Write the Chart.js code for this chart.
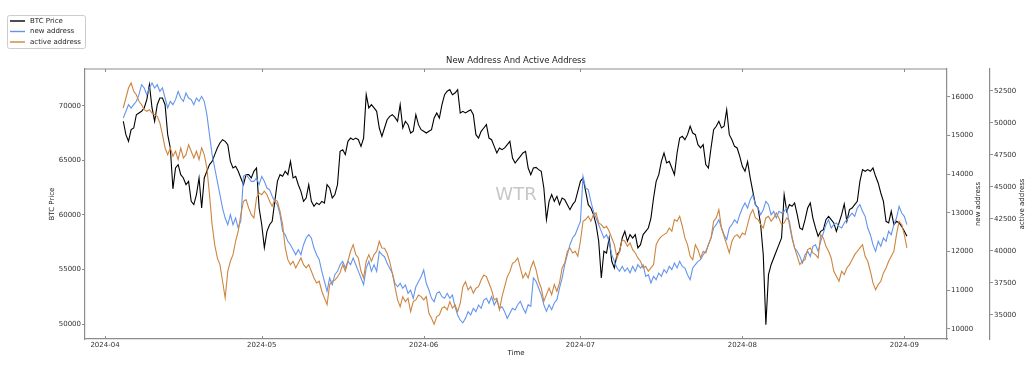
<!DOCTYPE html>
<html>
<head>
<meta charset="utf-8">
<title>New Address And Active Address</title>
<script src="https://cdn.jsdelivr.net/npm/chart.js@4.4.1/dist/chart.umd.min.js"></script>
<style>
  html, body { margin: 0; padding: 0; background: #fff; }
  #myChart { display: block; }
</style>
</head>
<body>
<canvas id="myChart" width="1036" height="370"></canvas>
<script>
// samples every 12 hours, first one on 2024-04-04 12:00 (day 3.5 counted from 2024-04-01)
const dayStart = 3.5;
const dayStep = 0.5;

const btcPrice = [
  68600,67370,66760,67830,67980,69200,69360,69510,69820,70580,
  71960,69820,68600,70120,70730,70730,70120,67370,66150,62400,
  64310,64620,63700,63400,62780,63090,61250,60950,61870,63400,
  60640,63400,64010,64620,64920,65540,66150,66610,66910,66760,
  66450,64920,64310,64470,64010,63400,62780,63700,63700,63400,
  64010,64310,60640,59110,57000,58500,59110,59420,61250,63090,
  63700,63550,64010,63700,64920,63400,63550,62780,62170,61250,
  61560,62780,61250,60800,61100,60950,61250,61100,62780,62480,
  61560,61870,62780,65840,65990,65540,66760,67060,66910,67060,
  66910,66300,67060,71040,69820,70120,69820,69510,67980,67220,
  67980,68740,69050,69200,68960,68600,70120,67980,68600,68290,
  67520,67680,69200,68290,67830,67680,67520,67680,67830,68900,
  69360,68900,70120,71040,71350,71500,71040,71190,71500,69360,
  69510,69360,69510,69660,69200,67370,67060,67680,67980,68290,
  67060,66910,66300,65690,66150,65990,66150,66450,66760,65230,
  64770,
  65080,65380,65690,65840,64310,63700,64310,64370,64160,64010,
  62480,59570,61250,61870,61250,61710,60950,61560,61410,60950,
  60490,60950,61250,62170,63090,63400,62170,60950,60640,60030,
  59110,57590,54220,56670,56510,57890,55750,55140,56360,56670,
  57890,58500,57590,58200,57890,58200,56980,57280,58200,58500,
  58810,
  59720,61560,63090,63700,64920,65690,64770,64920,64310,63700,
  65690,67060,67220,66910,67370,68140,67520,67370,66450,66150,
  66450,64620,64300,66150,67830,68140,68600,67980,68140,69660,
  67370,66910,66300,66150,65380,64470,64010,64900,63400,62170,
  60950,60640,59110,56360,49940,54530,55440,56060,56670,57280,
  57890,61870,60340,60950,60800,61100,60030,58810,58660,59570,
  60640,61100,59720,58810,58050,58500,58660,59570,59880,59570,
  59270,58500,59270,60030,61010,59420,60490,60640,60950,61250,
  63090,64160,64010,64160,64010,64310,63550,62940,62020,61250,
  59420,59270,60340,59110,59420,59270,58960,58500,58050
];

const newAddress = [
  15456,15629,15801,15715,15801,15888,16060,16319,16233,16060,
  16233,16363,16233,16319,16147,16233,15974,15715,15888,15801,
  15931,16147,15974,15888,16104,15974,15931,15801,15974,15888,
  16017,15888,15542,15024,14506,14161,13816,13470,13125,12866,
  12693,12952,12693,12866,12607,12800,13950,13988,13902,13816,
  13816,13902,13729,13946,13816,13643,13600,13428,13298,13211,
  12952,12521,12434,12262,12175,12045,11916,12045,11916,12175,
  12348,12434,12348,12089,11916,11786,11485,11227,10968,11312,
  11139,11398,11485,11657,11744,11571,11744,11657,11830,11657,
  11485,11312,11139,11571,11744,11485,11657,11485,12003,11916,
  11864,11692,11563,11434,11175,11087,11175,11045,11131,10916,
  11001,10786,11087,11217,11346,11519,11175,11001,10786,10698,
  10916,10957,10828,10786,10916,10786,10872,10569,10354,10224,
  10150,10268,10440,10354,10527,10440,10613,10527,10742,10786,
  10657,10828,10613,10742,10527,10569,10440,10268,10398,10527,
  10483,
  10621,10708,10535,10406,10621,10578,11312,11226,11053,10880,
  10621,10449,10621,10492,10665,10751,11053,11312,11657,11916,
  12175,12348,12434,12607,12780,13945,13643,13600,13298,13039,
  12866,12693,12521,12348,12434,12262,11916,11744,11571,11485,
  11614,11485,11571,11442,11614,11485,11657,11571,11657,11355,
  11398,
  11183,11355,11269,11442,11355,11528,11442,11614,11528,11700,
  11571,11744,11614,11571,11398,11269,11571,11657,11744,11786,
  11916,12003,12175,12348,12607,12693,12823,12607,12434,12305,
  12607,12693,12823,12737,12952,13125,13254,13125,13341,13470,
  13211,13125,12952,13082,13298,13211,12952,13039,12866,13039,
  12995,13039,13125,12693,12348,12089,12003,11873,11700,11916,
  12003,11873,12132,12175,12003,12262,12477,12693,12823,12607,
  12693,12737,12650,12607,12737,12823,12909,12995,12909,13125,
  13211,13039,12909,12607,12434,12175,12003,12262,12132,12348,
  12262,12521,12434,12693,12866,13168,12995,12909,12693
];

const activeAddress = [
  51149,51930,52711,53101,52453,52188,51672,51407,51016,50891,
  51016,50758,50626,50500,49977,49064,48025,47502,48025,47377,
  47767,47111,48025,47244,47502,48283,47767,47244,47767,47111,
  48025,47502,46463,44378,42035,40473,39434,38911,37614,36310,
  38395,39176,39692,40738,41519,42816,43862,43987,43339,42816,
  42558,44120,44510,44378,44643,44378,43862,43472,43987,43862,
  43081,42035,40215,39301,38911,39176,38653,39043,39434,38911,
  38653,38911,38395,37872,37481,37614,36833,36310,35787,37349,
  37614,37700,37950,38300,38911,38395,39176,39957,40473,39692,
  39434,38395,37872,39176,39692,39176,39692,39957,40738,40215,
  40191,39801,39145,38239,37192,36154,35631,36411,36021,36286,
  35240,36021,36154,36544,36411,36154,36411,35115,34724,34250,
  34849,34982,35505,35631,35373,36021,35505,35763,35240,35896,
  37192,37583,36935,37192,36677,37067,37192,37715,38106,37974,
  37458,36935,36154,36286,35373,36411,37192,37974,38364,39020,
  39145,
  39434,38653,37872,38262,37872,38653,39176,38520,37614,37091,
  36053,36568,37091,36568,37349,36833,37481,38653,39043,39957,
  40215,39826,39957,39565,40738,42300,42431,42690,42300,42816,
  42948,42170,42035,41779,41910,41519,40996,40473,39434,39957,
  40868,40738,40348,40607,40082,39826,39434,39176,38653,38785,
  38395,
  38653,38911,40473,40868,41124,41257,41388,41779,41519,42431,
  42300,42690,41910,40996,40473,39565,39301,40473,40082,39434,
  39957,39826,40473,40996,42300,42560,43210,41779,41124,40473,
  39826,40738,41124,41257,40996,41388,41257,42035,42816,43210,
  42560,42431,42035,41779,42560,42690,42300,42560,42948,42560,
  42035,42170,42560,42300,41124,40215,39565,38911,39176,39301,
  40082,40215,39826,39692,39434,41257,40996,40348,39957,39434,
  38395,38005,37614,38395,38130,38653,38911,39301,39692,39957,
  40215,40473,39565,39176,38395,37481,36960,37349,37614,38262,
  38653,39176,39565,39957,41257,42300,42035,41257,40215
];

// month ticks, in days from 2024-04-01
const monthDays = [0, 30, 61, 91, 122, 153];
const monthLabels = ['2024-04', '2024-05', '2024-06', '2024-07', '2024-08', '2024-09'];
const btcTicks = [50000, 55000, 60000, 65000, 70000];
const newAddressTicks = [10000, 11000, 12000, 13000, 14000, 15000, 16000];
const activeAddressTicks = [35000, 37500, 40000, 42500, 45000, 47500, 50000, 52500];

const spine = '#8c8c8c';
const tickText = '#333333';
Chart.defaults.font.family = '"DejaVu Sans", sans-serif';
Chart.defaults.font.size = 7;

const toPoints = (vals) => vals.map((v, i) => ({ x: dayStart + i * dayStep, y: v }));

const legendItems = [
  { text: 'BTC Price', color: '#000000' },
  { text: 'new address', color: '#6495ED' },
  { text: 'active address', color: '#CD853F' }
];

const decor = {
  id: 'decor',
  beforeDatasetsDraw(chart) {
    const { ctx, chartArea: a } = chart;
    ctx.save();
    ctx.fillStyle = '#c8c8c8';
    ctx.font = '18px "DejaVu Sans"';
    ctx.textAlign = 'center';
    ctx.textBaseline = 'middle';
    ctx.fillText('WTR', (a.left + a.right) / 2, 195);
    ctx.restore();
  },
  afterDraw(chart) {
    const { ctx, chartArea: a } = chart;
    const xs = chart.scales.x;
    ctx.save();
    // top spine
    ctx.strokeStyle = spine;
    ctx.lineWidth = 1.2;
    ctx.beginPath();
    ctx.moveTo(a.left, a.top);
    ctx.lineTo(a.right, a.top);
    ctx.stroke();
    // inward x ticks top and bottom
    ctx.lineWidth = 1;
    monthDays.forEach(d => {
      const px = Math.round(xs.getPixelForValue(d)) + 0.5;
      ctx.beginPath();
      ctx.moveTo(px, a.top);
      ctx.lineTo(px, a.top + 3);
      ctx.moveTo(px, a.bottom);
      ctx.lineTo(px, a.bottom - 3);
      ctx.stroke();
    });

    // title and axis titles
    ctx.fillStyle = '#222';
    ctx.textAlign = 'center';
    ctx.textBaseline = 'middle';
    ctx.font = '8.5px "DejaVu Sans"';
    ctx.fillText('New Address And Active Address', (a.left + a.right) / 2, 61);
    ctx.font = '7px "DejaVu Sans"';
    ctx.fillText('Time', (a.left + a.right) / 2, 353);
    const mid = (a.top + a.bottom) / 2;
    [[52, 'BTC Price'], [978, 'new address'], [1022, 'active address']].forEach(([x, t]) => {
      ctx.save();
      ctx.translate(x, mid);
      ctx.rotate(-Math.PI / 2);
      ctx.fillText(t, 0, 0);
      ctx.restore();
    });

    // legend box
    ctx.fillStyle = '#fff';
    ctx.strokeStyle = '#cccccc';
    ctx.lineWidth = 1;
    ctx.beginPath();
    ctx.roundRect(7.5, 15.5, 78, 33, 2);
    ctx.fill();
    ctx.stroke();
    ctx.textAlign = 'left';
    legendItems.forEach((it, i) => {
      const y = 21 + i * 10.5;
      ctx.strokeStyle = it.color;
      ctx.lineWidth = 1.4;
      ctx.beginPath();
      ctx.moveTo(10, y);
      ctx.lineTo(25, y);
      ctx.stroke();
      ctx.fillStyle = '#222';
      ctx.fillText(it.text, 30, y);
    });
    ctx.restore();
  }
};

const yAxis = (min, max, ticks, position, width, weight) => ({
  type: 'linear',
  position: position,
  weight: weight,
  min: min,
  max: max,
  afterBuildTicks: (scale) => { scale.ticks = ticks.map(v => ({ value: v })); },
  afterFit: (scale) => { scale.width = width; },
  grid: { drawOnChartArea: false, drawTicks: true, tickLength: 3, color: spine, lineWidth: 1 },
  border: { display: true, color: spine, width: 1.2 },
  ticks: { color: tickText, padding: 1, callback: (v) => String(v), font: { size: 7 } }
});

const ctx = document.getElementById('myChart');

new Chart(ctx, {
  type: 'line',
  data: {
    datasets: [
      {
        label: 'active address',
        data: toPoints(activeAddress),
        yAxisID: 'y2',
        borderColor: '#CD853F',
        borderWidth: 1.1,
        order: 0
      },
      {
        label: 'new address',
        data: toPoints(newAddress),
        yAxisID: 'y1',
        borderColor: '#6495ED',
        borderWidth: 1.1,
        order: 1
      },
      {
        label: 'BTC Price',
        data: toPoints(btcPrice),
        yAxisID: 'y',
        borderColor: '#000000',
        borderWidth: 1.1,
        order: 2
      }
    ]
  },
  options: {
    responsive: false,
    devicePixelRatio: 1,
    animation: false,
    layout: { padding: { top: 69, left: 0, right: 0, bottom: 0 } },
    elements: { point: { radius: 0 }, line: { tension: 0 } },
    plugins: { legend: { display: false }, title: { display: false }, tooltip: { enabled: false } },
    scales: {
      x: {
        type: 'linear',
        min: -3.83,
        max: 161.17,
        afterBuildTicks: (scale) => { scale.ticks = monthDays.map(v => ({ value: v })); },
        afterFit: (scale) => { scale.height = 31; },
        grid: { drawOnChartArea: false, drawTicks: false },
        border: { display: true, color: spine, width: 1.2 },
        ticks: {
          color: tickText,
          padding: 2,
          autoSkip: false,
          maxRotation: 0,
          callback: (v) => monthLabels[monthDays.indexOf(v)]
        }
      },
      y: yAxis(48624, 73394, btcTicks, 'left', 85, 0),
      y1: yAxis(9733, 16725, newAddressTicks, 'right', 43, 0),
      y2: yAxis(33102, 54195, activeAddressTicks, 'right', 46, 1)
    }
  },
  plugins: [decor]
});
</script>
</body>
</html>
